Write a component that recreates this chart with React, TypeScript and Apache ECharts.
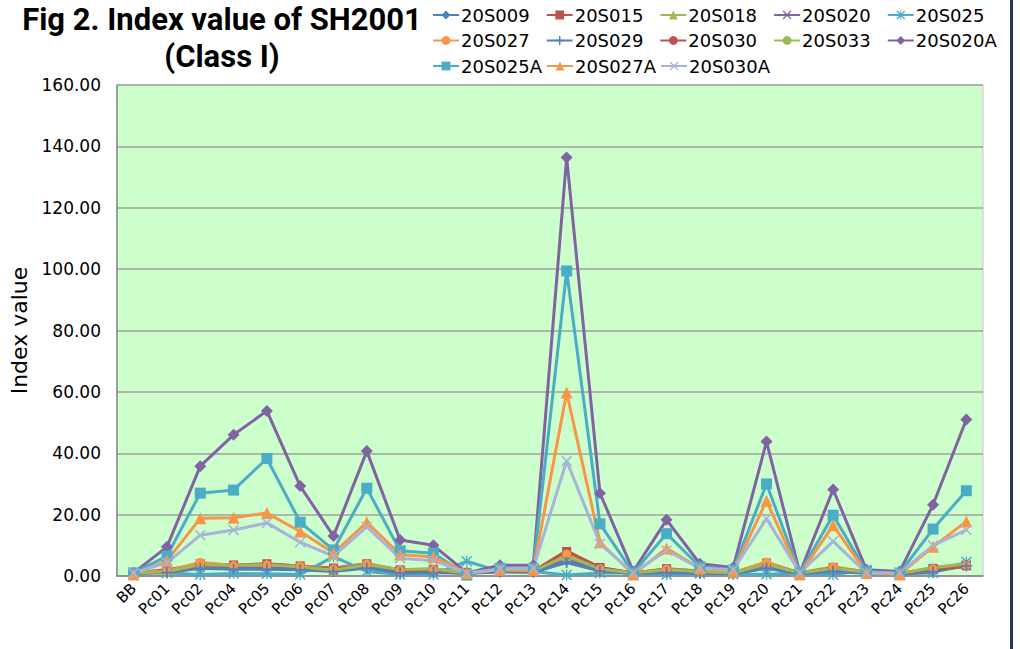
import React, { useEffect, useRef } from "react";
import * as echarts from "echarts";

const categories = ["BB","Pc01","Pc02","Pc04","Pc05","Pc06","Pc07","Pc08","Pc09","Pc10","Pc11","Pc12","Pc13","Pc14","Pc15","Pc16","Pc17","Pc18","Pc19","Pc20","Pc21","Pc22","Pc23","Pc24","Pc25","Pc26"];

const s20S009 = [1.0,1.2,2.8,2.5,2.6,2.3,1.8,3.0,1.2,1.3,1.0,1.5,1.3,4.8,1.8,0.8,1.3,1.0,0.8,2.8,0.8,1.8,1.0,0.6,1.6,3.5];
const s20S015 = [1.0,2.0,4.0,3.6,4.0,3.3,2.6,4.0,2.0,2.2,1.2,2.0,1.5,8.0,2.8,1.0,2.4,1.6,1.1,4.2,1.0,2.8,1.4,0.8,2.5,3.3];
const s20S018 = [1.0,1.5,3.8,3.5,3.8,3.0,1.6,3.6,2.0,2.3,1.0,2.0,1.6,6.2,2.2,1.0,2.0,1.4,1.0,3.8,1.0,2.4,1.3,0.8,2.8,4.0];
const s20S020 = [1.0,1.2,3.0,2.8,3.0,2.5,1.8,3.2,1.5,1.6,0.9,1.6,1.4,5.2,2.0,0.9,1.6,1.2,0.9,3.2,0.9,2.0,1.1,0.7,2.0,3.6];
const s20S025 = [1.0,1.0,0.5,0.8,0.7,0.5,6.3,1.5,0.5,0.5,4.8,1.5,1.5,0.3,1.0,1.0,0.5,0.8,0.6,0.6,1.0,0.4,2.0,0.8,1.0,4.6];
const s20S027 = [1.0,1.6,4.5,3.4,3.6,3.3,2.3,3.9,1.9,2.1,1.1,1.9,1.6,7.2,2.4,1.0,2.2,1.5,1.1,4.6,1.0,3.0,1.3,0.8,2.4,3.5];
const s20S029 = [1.0,1.1,2.5,2.2,2.2,2.0,1.5,2.6,1.0,1.1,0.9,1.3,1.2,4.4,1.6,0.8,1.1,0.9,0.7,2.5,0.7,1.5,0.9,0.6,1.4,3.3];
const s20S030 = [1.0,1.3,3.6,3.3,3.8,3.1,2.2,3.7,1.8,1.9,1.1,1.8,1.5,8.2,2.6,1.0,2.1,1.5,1.0,3.9,1.0,2.6,1.3,0.8,2.3,3.0];
const s20S033 = [1.0,1.4,3.7,3.4,3.7,3.0,1.9,3.7,2.1,2.3,1.0,2.0,1.6,6.6,2.3,1.0,2.0,1.5,1.0,3.9,1.0,2.5,1.3,0.8,2.7,3.9];
const s20S020A = [1.0,9.5,35.8,46.0,53.8,29.3,13.0,40.7,11.7,10.0,1.0,3.5,3.5,136.4,27.0,1.5,18.3,4.0,2.8,43.8,1.0,28.2,2.0,1.5,23.2,51.0];
const s20S025A = [1.0,6.5,27.0,28.0,38.3,17.5,8.5,28.6,8.2,7.4,0.3,2.5,2.5,99.4,17.0,1.0,13.8,3.0,2.0,30.0,1.0,19.8,1.5,1.0,15.3,27.8];
const s20S027A = [0.5,5.0,18.8,19.0,20.5,14.5,7.5,17.5,7.0,6.2,1.0,2.0,2.0,59.8,11.0,0.5,9.0,2.5,1.5,24.5,0.5,16.5,1.0,0.5,9.5,17.8];
const s20S030A = [1.0,4.3,13.3,15.0,17.3,11.0,6.5,16.0,5.8,5.0,1.0,2.3,2.5,37.5,10.5,1.0,8.3,2.5,2.0,18.7,1.0,11.3,1.0,1.0,10.0,15.0];

const yTicks = { min: 0, max: 160, interval: 20 };

const X_PATH = "path://M0,1L1,0L5,4L9,0L10,1L6,5L10,9L9,10L5,6L1,10L0,9L4,5Z";
const PLUS_PATH = "path://M4.2,0H5.8V4.2H10V5.8H5.8V10H4.2V5.8H0V4.2H4.2Z";
const STAR_PATH = "path://M4.4,0H5.6V10H4.4Z M0,1L1,0L5,4L9,0L10,1L6,5L10,9L9,10L5,6L1,10L0,9L4,5Z";

const BLUE = "#4F81BD", RED = "#C0504D", GREEN = "#9BBB59", PURPLE = "#8064A2", AQUA = "#4BACC6", ORANGE = "#F79646", LAV = "#A8B3D8";

const seriesDefs = [
  { name: "20S009", data: s20S009, color: BLUE, symbol: "diamond", size: 10 },
  { name: "20S015", data: s20S015, color: RED, symbol: "rect", size: 9 },
  { name: "20S018", data: s20S018, color: GREEN, symbol: "triangle", size: 10 },
  { name: "20S020", data: s20S020, color: PURPLE, symbol: X_PATH, size: 10 },
  { name: "20S025", data: s20S025, color: AQUA, symbol: STAR_PATH, size: 11 },
  { name: "20S027", data: s20S027, color: ORANGE, symbol: "circle", size: 9 },
  { name: "20S029", data: s20S029, color: BLUE, symbol: PLUS_PATH, size: 11 },
  { name: "20S030", data: s20S030, color: RED, symbol: "none", size: 0 },
  { name: "20S033", data: s20S033, color: GREEN, symbol: "none", size: 0 },
  { name: "20S020A", data: s20S020A, color: PURPLE, symbol: "diamond", size: 12 },
  { name: "20S025A", data: s20S025A, color: AQUA, symbol: "rect", size: 11 },
  { name: "20S027A", data: s20S027A, color: ORANGE, symbol: "triangle", size: 12 },
  { name: "20S030A", data: s20S030A, color: LAV, symbol: X_PATH, size: 11 },
];

const legendRows = [
  ["20S009", "20S015", "20S018", "20S020", "20S025"],
  ["20S027", "20S029", "20S030", "20S033", "20S020A"],
  ["20S025A", "20S027A", "20S030A"],
];
const legendGaps = [16, 16, 4];

export default function App() {
  const ref = useRef<HTMLDivElement>(null);
  useEffect(() => {
    if (!ref.current) return;
    const chart = echarts.init(ref.current, null, { renderer: "svg" });
    const font = "DejaVu Sans, sans-serif";
    const titleStyle = { fontFamily: "Roboto, sans-serif", fontWeight: "bold", fontSize: 31, lineHeight: 32, color: "#000" };
    chart.setOption({
      animation: false,
      backgroundColor: "#FFFFFF",
      title: [
        { text: "Fig 2. Index value of SH2001", left: 222, textAlign: "center", top: 3, padding: 0, textStyle: titleStyle },
        { text: "(Class I)", left: 222, textAlign: "center", top: 40, padding: 0, textStyle: titleStyle },
      ],
      legend: legendRows.map((row, i) => ({
        data: row,
        left: 432,
        top: 6 + i * 25.5,
        padding: 0,
        orient: "horizontal",
        itemWidth: 26,
        itemHeight: 11,
        itemGap: legendGaps[i],
        textStyle: { fontFamily: font, fontSize: 18, color: "#000", padding: [0, 0, 0, -3] },
      })),
      grid: { left: 117, right: 37, top: 85, bottom: 73, show: true, backgroundColor: "#CCFFCC", borderColor: "#C8C8C8", borderWidth: 1 },
      xAxis: {
        type: "category",
        data: categories,
        boundaryGap: true,
        axisLine: { lineStyle: { color: "#888888", width: 1.5 } },
        axisTick: { show: false },
        axisLabel: { rotate: 45, fontFamily: font, fontSize: 15, color: "#000", margin: 10, interval: 0 },
      },
      yAxis: {
        type: "value",
        min: yTicks.min,
        max: yTicks.max,
        interval: yTicks.interval,
        name: "Index value",
        nameLocation: "middle",
        nameGap: 67,
        nameTextStyle: { fontFamily: font, fontSize: 22, color: "#000" },
        axisLine: { show: true, lineStyle: { color: "#888888", width: 1.5 } },
        axisTick: { show: false },
        splitLine: { lineStyle: { color: "#A0A0A0", width: 1.5 } },
        axisLabel: { fontFamily: font, fontSize: 17, color: "#000", margin: 16, formatter: (v: number) => v.toFixed(2) },
      },
      graphic: [
        { type: "rect", shape: { x: 1010, y: 0, width: 3, height: 649 }, style: { fill: "#1F3A60" } },
      ],
      series: seriesDefs.map((s) => ({
        name: s.name,
        type: "line",
        data: s.data,
        symbol: s.symbol,
        symbolSize: s.size,
        showSymbol: s.symbol !== "none",
        lineStyle: { color: s.color, width: 3 },
        itemStyle: { color: s.color },
        emphasis: { disabled: true },
      })),
    });
    return () => chart.dispose();
  }, []);
  return <div ref={ref} style={{ position: "fixed", left: 0, top: 0, width: 1020, height: 649 }} />;
}
